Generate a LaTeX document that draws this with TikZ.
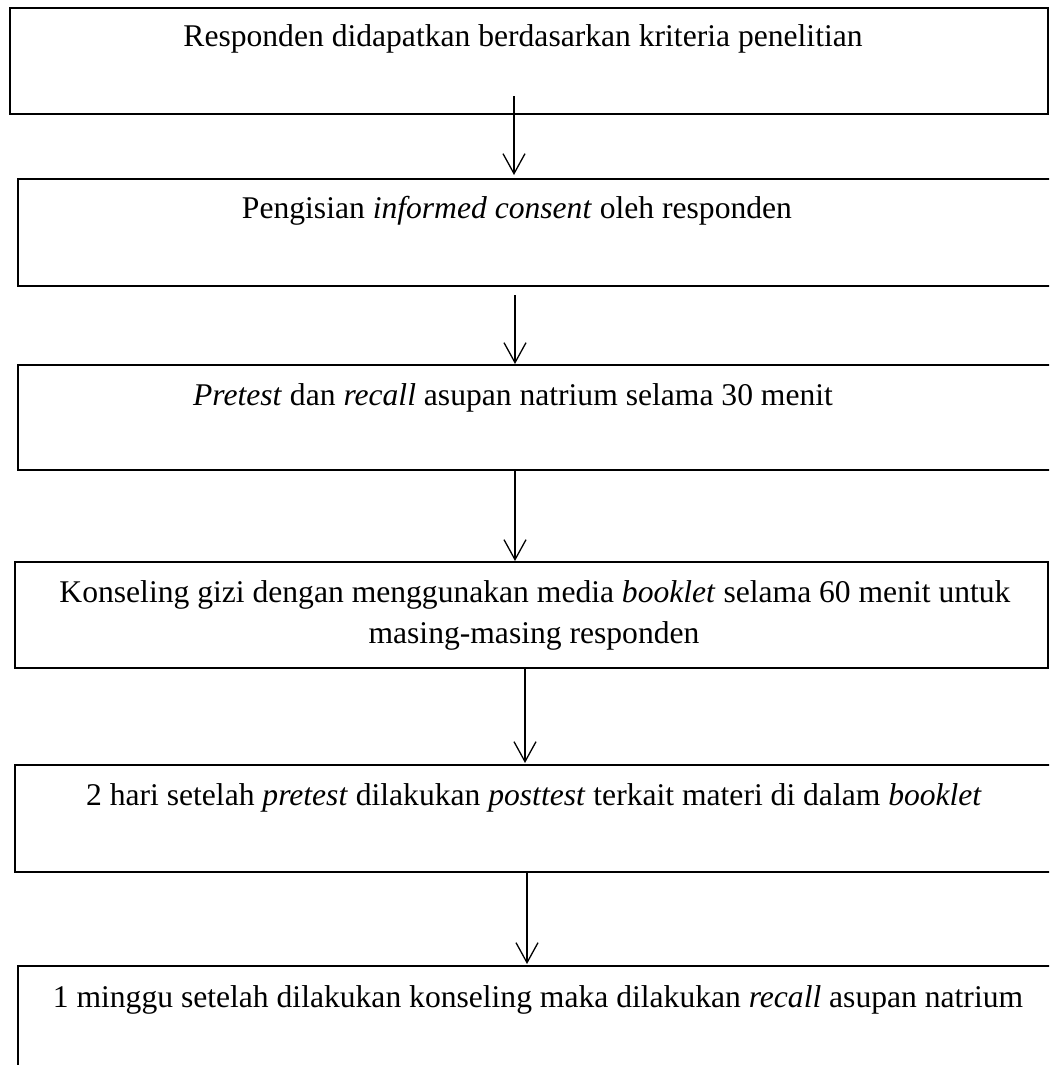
\documentclass[tikz,border=0pt]{standalone}
\usepackage{fontspec}
\setmainfont{Liberation Serif}
\usetikzlibrary{arrows.meta}
\begin{document}
\begin{tikzpicture}[x=1pt,y=-1pt,
  box/.style={draw=black,line width=1.3pt,inner sep=0pt,fill=none},
  txt/.style={anchor=base,inner sep=0pt,font=\fontsize{31.6}{38}\selectfont},
  arr/.style={draw=black,line width=1.3pt,-{Straight Barb[length=20pt,width=22pt,line width=1.3pt]}}]
\useasboundingbox (0,0) rectangle (1049,1065);
\clip (0,0) rectangle (1049,1065);
\node[box,minimum width=1038pt,minimum height=106pt] (b1) at (529,61) {};
\node[box,minimum width=1034pt,minimum height=107pt] (b2) at (535,232.5) {};
\node[box,minimum width=1034pt,minimum height=105pt] (b3) at (535,417.5) {};
\node[box,minimum width=1033pt,minimum height=106pt] (b4) at (531.5,615) {};
\node[box,minimum width=1037pt,minimum height=107pt] (b5) at (533.5,818.5) {};
\node[box,minimum width=1034pt,minimum height=109pt] (b6) at (535,1020.5) {};
\node[txt] (t1) at (523,47) {Responden didapatkan berdasarkan kriteria penelitian};
\node[txt] (t2) at (517,218) {Pengisian \textit{informed consent} oleh responden};
\node[txt] (t3) at (513,405) {\textit{Pretest} dan \textit{recall} asupan natrium selama 30 menit};
\node[txt] (t4a) at (535,602) {Konseling gizi dengan menggunakan media \textit{booklet} selama 60 menit untuk};
\node[txt] (t4b) at (534,643) {masing-masing responden};
\node[txt] (t5) at (534,805) {2 hari setelah \textit{pretest} dilakukan \textit{posttest} terkait materi di dalam \textit{booklet}};
\node[txt] (t6) at (538,1007) {1 minggu setelah dilakukan konseling maka dilakukan \textit{recall} asupan natrium};
\coordinate (a1s) at (514,96);  \coordinate (a1e) at (514,175);
\coordinate (a2s) at (515,295); \coordinate (a2e) at (515,364);
\coordinate (a3s) at (515,471); \coordinate (a3e) at (515,561);
\coordinate (a4s) at (525,669); \coordinate (a4e) at (525,763);
\coordinate (a5s) at (527,873); \coordinate (a5e) at (527,964);
\draw[arr] (a1s) -- (a1e);
\draw[arr] (a2s) -- (a2e);
\draw[arr] (a3s) -- (a3e);
\draw[arr] (a4s) -- (a4e);
\draw[arr] (a5s) -- (a5e);
\end{tikzpicture}
\end{document}
